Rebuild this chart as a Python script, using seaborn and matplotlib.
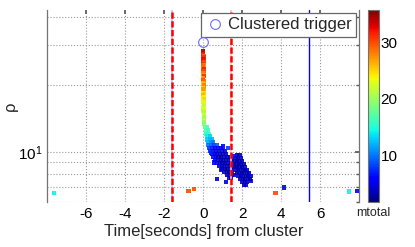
import pandas as pd
import matplotlib
matplotlib.use("Agg")
import matplotlib.pyplot as plt
import seaborn as sns
from matplotlib.ticker import NullFormatter
from matplotlib.colors import Normalize
from matplotlib.cm import ScalarMappable

# --- data ----------------------------------------------------------------
# near-vertical streak right at t=0 (high rho, high mtotal)
streak_t = [0.0, -0.01, 0.03, 0.02, -0.02, 0.01, 0.02, 0.0, 0.03, -0.02, 0.03,
            -0.02, 0.01, -0.01, 0.03, 0.02, 0.0, -0.02, 0.03, -0.01, 0.04, 0.02,
            0.0, -0.02, 0.03, 0.01, 0.04, 0.0, 0.03, 0.0, 0.02, 0.0, 0.02, 0.04,
            0.02, 0.0, 0.03, 0.01, 0.02, 0.04, 0.03, 0.02, 0.05, 0.03, 0.02,
            0.05, 0.04]
streak_rho = [28.2, 27.2, 26.8, 26.5, 25.9, 25.6, 25.3, 24.7, 24.4, 24.1, 23.5,
              23.2, 23.0, 22.4, 22.1, 21.9, 21.3, 21.0, 20.8, 20.3, 20.0, 19.8,
              19.3, 19.0, 18.9, 18.4, 18.2, 18.0, 17.6, 17.4, 17.2, 16.8, 16.6,
              16.4, 16.0, 15.8, 15.6, 15.3, 15.1, 14.9, 14.6, 14.4, 14.2, 13.9,
              13.7, 13.6, 13.3]
streak_m = [35, 32, 29, 31, 33, 32, 30, 31, 28, 29, 32, 31, 30, 28, 27, 31, 27,
            30, 29, 26, 26, 28, 25, 27, 27, 24, 25, 26, 23, 24, 25, 22, 23, 24,
            21, 22, 23, 22, 20, 21, 22, 21, 20, 21, 22, 20, 19]

# bend of the curve (green / cyan)
bend_t = [0.1, 0.2, 0.12, 0.25, 0.15, 0.28, 0.18, 0.33, 0.2, 0.36, 0.45, 0.22,
          0.38, 0.5, 0.25, 0.4, 0.55, 0.7]
bend_rho = [12.9, 12.9, 12.5, 12.5, 12.1, 12.1, 11.75, 11.75, 11.4, 11.4, 11.4,
            11.1, 11.1, 11.1, 10.8, 10.8, 10.8, 10.8]
bend_m = [18, 17, 17, 16, 15, 16, 14, 13, 13, 12, 12, 12, 11, 10, 10, 9, 8, 9]

# main blue band
band_t = [0.3, 0.45, 0.6, 0.75, 0.9,
          0.35, 0.5, 0.65, 0.8, 0.95, 1.1,
          0.45, 0.6, 0.72, 0.85, 1.0, 1.15,
          0.5, 0.65, 0.78, 0.92, 1.05, 1.2, 1.35,
          0.6, 0.75, 0.9, 1.02, 1.15, 1.3, 1.45,
          0.7, 0.85, 0.98, 1.1, 1.25, 1.4,
          0.8, 0.95, 1.08, 1.2, 1.35, 1.5,
          0.95, 1.1, 1.22, 1.35, 1.48,
          1.05, 1.2, 1.32, 1.45,
          1.2, 1.35, 1.48,
          1.3, 1.42]
band_rho = [10.45] * 5 + [10.15] * 6 + [9.83] * 6 + [9.53] * 7 + [9.24] * 7 \
    + [8.96] * 6 + [8.69] * 6 + [8.42] * 5 + [8.16] * 4 + [7.92] * 3 + [7.68] * 2
band_m = [8, 7, 6, 5, 5,
          7, 6, 5, 4, 5, 4,
          6, 5, 4, 4, 3, 4,
          6, 5, 4, 3, 4, 3, 4,
          5, 4, 3, 4, 3, 3, 4,
          5, 4, 3, 3, 4, 3,
          4, 3, 4, 3, 3, 4,
          4, 3, 3, 4, 3,
          4, 3, 3, 4,
          3, 4, 3,
          4, 3]

# second lobe around t=2
lobe_t = [1.72, 1.85,
          1.65, 1.78, 1.92,
          1.6, 1.72, 1.85, 1.98,
          1.58, 1.7, 1.82, 1.95, 2.08,
          1.6, 1.72, 1.85, 1.98, 2.12,
          1.65, 1.78, 1.9, 2.02, 2.15, 2.25,
          1.72, 1.85, 1.98, 2.1, 2.22, 2.35,
          1.8, 1.92, 2.05, 2.18, 2.3, 2.42,
          1.9, 2.02, 2.15, 2.28, 2.4,
          2.0, 2.12, 2.25,
          2.1, 2.2]
lobe_rho = [9.73] * 2 + [9.43] * 3 + [9.14] * 4 + [8.87] * 5 + [8.6] * 5 \
    + [8.33] * 6 + [8.08] * 6 + [7.84] * 6 + [7.6] * 5 + [7.37] * 3 + [7.14] * 2
lobe_m = [4, 3, 4, 3, 4, 3, 4, 3, 4, 4, 3, 3, 4, 3, 3, 4, 3, 3, 4,
          4, 3, 4, 3, 3, 4, 3, 4, 3, 3, 4, 3, 4, 3, 4, 3, 3, 4,
          3, 4, 3, 4, 3, 4, 3, 4, 3, 4]

# stray triggers (around the band and far from the cluster)
stray_t = [0.7, 1.18, 1.28, 0.55, 0.9, 1.55, 1.0, 2.45, 1.56, 0.4,
           -7.65, -0.76, -0.46, 3.70, 4.13, 7.47, 7.9]
stray_rho = [7.57, 7.39, 10.4, 9.0, 8.3, 9.6, 10.6, 7.45, 7.95, 9.9,
             6.56, 6.74, 6.85, 6.60, 6.97, 6.68, 6.74]
stray_m = [5, 5, 8, 6, 5, 6, 6, 4, 4, 7,
           14, 30, 30, 30, 5, 14, 6]

cluster_t = [0.0]
cluster_rho = [31.0]

window_edges = [-1.59, 1.40]
end_time = 5.41

mtotal_range = (1.8, 35.7)
x_ticks = [-6, -4, -2, 0, 2, 4, 6]
cbar_ticks = [10, 20, 30]

df = pd.DataFrame({
    "time": streak_t + bend_t + band_t + lobe_t + stray_t,
    "rho": streak_rho + bend_rho + band_rho + lobe_rho + stray_rho,
    "mtotal": streak_m + bend_m + band_m + lobe_m + stray_m,
})

# --- plot -----------------------------------------------------------------
sns.set_theme(style="white")
plt.rcParams['font.family'] = ['Liberation Sans', 'DejaVu Sans']
plt.rcParams['axes.unicode_minus'] = False
jet = matplotlib.colormaps["jet"]

fig = plt.figure(figsize=(4.15, 2.47), dpi=100)
ax = fig.add_axes([0.114, 0.182, 0.752, 0.778])
cax = fig.add_axes([0.886, 0.183, 0.028, 0.777])

ax.set_yscale("log")
ax.grid(True, which="both", axis="y", ls=":", color="0.6", lw=0.8)
ax.grid(True, which="major", axis="x", ls=":", color="0.6", lw=0.8)

sns.scatterplot(data=df, x="time", y="rho", hue="mtotal", palette=jet,
                hue_norm=mtotal_range, marker="s", s=9, linewidth=0,
                alpha=0.9, legend=False, ax=ax, zorder=3)

for t in window_edges:
    ax.axvline(t, color="#c0c0ff" if t < 0 else "#ffc0c0", lw=1.2, zorder=4)
    ax.axvline(t, color="red", lw=1.8, ls=(0, (2.5, 1)), zorder=5)
ax.axvline(end_time, color="blue", lw=1, zorder=4)

ax.plot(cluster_t, cluster_rho, "o", mfc="none", mec="#6a6aff", ms=7,
        mew=0.8, ls="none", label="Clustered trigger", zorder=6)

ax.set_xlim(-8, 8)
ax.set_ylim(6, 43)
ax.set_xticks(x_ticks)
ax.yaxis.set_minor_formatter(NullFormatter())
ax.tick_params(which="both", direction="in", top=True, right=True,
               colors="0.35", labelcolor="black", labelsize=11, length=3)
ax.tick_params(which="minor", length=2)
for side in ["top", "bottom"]:
    ax.spines[side].set_visible(False)
for side in ["left", "right"]:
    ax.spines[side].set_color("0.45")
    ax.spines[side].set_linewidth(0.9)

ax.set_xlabel("Time[seconds] from cluster", fontsize=12, labelpad=2)
ax.set_ylabel("ρ", fontsize=12)
ax.yaxis.set_label_coords(-0.095, 0.5)

leg = ax.legend(loc="upper right", fontsize=12, frameon=True, fancybox=False,
                edgecolor="0.4", framealpha=1, borderpad=0.25,
                handletextpad=0.2, borderaxespad=0.2, handlelength=1.2)
leg.get_frame().set_linewidth(0.9)

sm = ScalarMappable(norm=Normalize(*mtotal_range), cmap=jet)
cb = fig.colorbar(sm, cax=cax)
cb.set_ticks(cbar_ticks)
cax.tick_params(labelsize=11, direction="in", length=3, colors="0.35",
                labelcolor="black", pad=1)
cb.outline.set_edgecolor("0.45")
cb.outline.set_linewidth(0.8)
fig.text(0.900, 0.138, "mtotal", ha="center", va="center", fontsize=9)

fig.savefig("out.png", dpi=100)
